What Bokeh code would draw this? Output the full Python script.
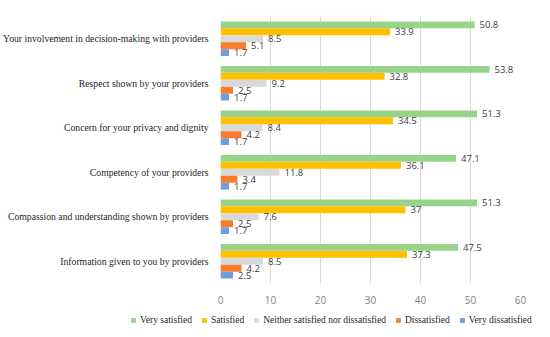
from bokeh.plotting import figure
from bokeh.layouts import column, row
from bokeh.models import ColumnDataSource, FactorRange, Legend, LegendItem, Range1d, FixedTicker
from bokeh.transform import dodge
from bokeh.core.properties import value
from bokeh.embed import file_html
from bokeh.resources import INLINE

categories = [
    "Your involvement in decision-making with providers",
    "Respect shown by your providers",
    "Concern for your privacy and dignity",
    "Competency of your providers",
    "Compassion and understanding shown by providers",
    "Information given to you by providers",
]
series_names = ["Very satisfied", "Satisfied", "Neither satisfied nor dissatisfied",
                "Dissatisfied", "Very dissatisfied"]
very_satisfied = [50.8, 53.8, 51.3, 47.1, 51.3, 47.5]
satisfied = [33.9, 32.8, 34.5, 36.1, 37, 37.3]
neither = [8.5, 9.2, 8.4, 11.8, 7.6, 8.5]
dissatisfied = [5.1, 2.5, 4.2, 3.4, 2.5, 4.2]
very_dissatisfied = [1.7, 1.7, 1.7, 1.7, 1.7, 2.5]
x_ticks = [0, 10, 20, 30, 40, 50, 60]

series_values = [very_satisfied, satisfied, neither, dissatisfied, very_dissatisfied]
colors = ["#98D38A", "#FFC000", "#D9D9D9", "#F97B2C", "#6E9FDC"]

bar_h = 0.156
offsets = [2 * bar_h, bar_h, 0.0, -bar_h, -2 * bar_h]

p = figure(
    width=534, height=306,
    y_range=FactorRange(factors=list(reversed(categories))),
    x_range=Range1d(0, 60),
    output_backend="svg", toolbar_location=None,
    min_border_left=211, min_border_right=14, min_border_top=16, min_border_bottom=22,
)
p.y_range.range_padding = 0

for name, vals, col, off in zip(series_names, series_values, colors, offsets):
    src = ColumnDataSource(dict(cat=categories, v=vals, lab=[f"{v:g}" for v in vals]))
    p.hbar(y=dodge("cat", off, range=p.y_range), right="v", left=0, height=bar_h,
           fill_color=col, line_color=None, source=src)
    p.text(x="v", y=dodge("cat", off, range=p.y_range), text="lab", source=src,
           x_offset=5, text_baseline="middle", text_align="left",
           text_font=value("Open Sans"), text_font_size="9.5px", text_color="#404040")

p.outline_line_color = None
p.ygrid.grid_line_color = None
p.xgrid.grid_line_color = "#D9D9D9"
p.xaxis.ticker = FixedTicker(ticks=x_ticks)
p.xaxis.axis_line_color = None
p.yaxis.axis_line_color = None
p.xaxis.major_tick_line_color = None
p.xaxis.minor_tick_line_color = None
p.yaxis.major_tick_line_color = None
p.xaxis.major_label_text_font = "Open Sans"
p.xaxis.major_label_text_font_size = "10px"
p.xaxis.major_label_text_color = "#7f7f7f"
p.xaxis.major_label_standoff = 6
p.yaxis.major_label_text_font = "Liberation Serif"
p.yaxis.major_label_text_font_size = "9.7px"
p.yaxis.major_label_text_color = "#262626"
p.yaxis.major_label_standoff = 6

# legend-only strip below the chart
lg = figure(width=534, height=22, x_range=Range1d(0, 1), y_range=Range1d(0, 1),
            output_backend="svg", toolbar_location=None,
            x_axis_location=None, y_axis_location=None, min_border=0)
lg.outline_line_color = None
lg.grid.grid_line_color = None
items = []
for name, col in zip(series_names, colors):
    r = lg.hbar(y=[5], right=[6], left=[5], height=0.1, fill_color=col, line_color=None)
    items.append(LegendItem(label=name, renderers=[r]))
legend = Legend(items=items, orientation="horizontal", location=(130, 3),
                label_text_font="Liberation Serif", label_text_font_size="9.5px",
                label_text_color="#262626", glyph_width=6, glyph_height=6,
                spacing=9, label_standoff=4, border_line_color=None,
                background_fill_alpha=0, padding=0, margin=0)
lg.add_layout(legend, "center")

layout = column(p, row(lg), spacing=0)
open("out.html", "w").write(file_html(layout, INLINE))
